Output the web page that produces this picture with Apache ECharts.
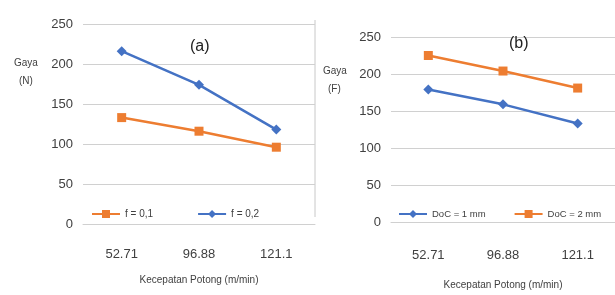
<!DOCTYPE html>
<html>
<head>
<meta charset="utf-8">
<script src="https://cdn.jsdelivr.net/npm/echarts@6/dist/echarts.min.js"></script>
<style>
  html, body { margin: 0; padding: 0; background: #fff; }
  #chart-container { width: 615px; height: 295px; }
</style>
</head>
<body>
<div id="chart-container"></div>
<script>
var categories = ['52.71', '96.88', '121.1'];
var yTicks = [0, 50, 100, 150, 200, 250];
var feed01 = [133, 116, 96];
var feed02 = [216, 174, 118];
var doc1 = [179, 159, 133];
var doc2 = [225, 204, 181];

var dom = document.getElementById('chart-container');
var myChart = echarts.init(dom, null, { renderer: 'canvas' });

var font = '"Liberation Sans", sans-serif';
var textColor = '#404040';
var blue = '#4472C4';
var orange = '#ED7D31';

function xAxisFor(grid, margin, gap) {
  return {
    type: 'category',
    gridIndex: grid,
    data: categories,
    axisLine: { lineStyle: { color: '#d0d0d0' } },
    axisTick: { show: false },
    axisLabel: { color: textColor, fontFamily: font, fontSize: 13, margin: margin },
    name: 'Kecepatan Potong (m/min)',
    nameLocation: 'middle',
    nameGap: gap,
    nameTextStyle: { color: textColor, fontFamily: font, fontSize: 10 }
  };
}

function yAxisFor(grid) {
  return {
    type: 'value',
    gridIndex: grid,
    min: yTicks[0],
    max: yTicks[yTicks.length - 1],
    interval: 50,
    axisLine: { show: false },
    axisTick: { show: false },
    splitLine: { lineStyle: { color: '#d0d0d0' } },
    axisLabel: { color: textColor, fontFamily: font, fontSize: 13, margin: 10 }
  };
}

function lineSeries(name, data, color, symbol, idx) {
  return {
    name: name,
    type: 'line',
    xAxisIndex: idx,
    yAxisIndex: idx,
    data: data,
    symbol: symbol,
    symbolSize: symbol === 'rect' ? 9 : 10,
    itemStyle: { color: color },
    lineStyle: { color: color, width: 2.5 }
  };
}

var option = {
  animation: false,
  textStyle: { fontFamily: font },
  title: [
    { text: '(a)', left: 185, top: 34, textStyle: { fontSize: 16, fontWeight: 'normal', color: '#222', fontFamily: font } },
    { text: '(b)', left: 504, top: 31, textStyle: { fontSize: 16, fontWeight: 'normal', color: '#222', fontFamily: font } }
  ],
  grid: [
    { left: 83, right: 300, top: 24, bottom: 71 },
    { left: 391, right: 0, top: 37, bottom: 67 }
  ],
  legend: [
    {
      data: ['f = 0,1', 'f = 0,2'],
      orient: 'horizontal', width: 220,
      left: 86, top: 204, itemWidth: 28, itemHeight: 10, itemGap: 44,
      textStyle: { color: textColor, fontFamily: font, fontSize: 10 }
    },
    {
      data: ['DoC = 1 mm', 'DoC = 2 mm'],
      orient: 'horizontal', width: 222,
      left: 393, top: 204, itemWidth: 28, itemHeight: 10, itemGap: 28,
      textStyle: { color: textColor, fontFamily: font, fontSize: 9.5 }
    }
  ],
  xAxis: [xAxisFor(0, 24, 51), xAxisFor(1, 27, 58)],
  yAxis: [yAxisFor(0), yAxisFor(1)],
  series: [
    lineSeries('f = 0,1', feed01, orange, 'rect', 0),
    lineSeries('f = 0,2', feed02, blue, 'diamond', 0),
    lineSeries('DoC = 1 mm', doc1, blue, 'diamond', 1),
    lineSeries('DoC = 2 mm', doc2, orange, 'rect', 1)
  ],
  graphic: [
    { type: 'text', left: 14, top: 58, style: { text: 'Gaya', fill: textColor, font: '10px ' + font } },
    { type: 'text', left: 19, top: 76, style: { text: '(N)', fill: textColor, font: '10px ' + font } },
    { type: 'text', left: 323, top: 66, style: { text: 'Gaya', fill: textColor, font: '10px ' + font } },
    { type: 'text', left: 328, top: 84, style: { text: '(F)', fill: textColor, font: '10px ' + font } },
    { type: 'line', shape: { x1: 315, y1: 20, x2: 315, y2: 217 }, style: { stroke: '#c8c8c8', lineWidth: 1 } }
  ]
};

myChart.setOption(option);
window.addEventListener('resize', myChart.resize);
</script>
</body>
</html>
